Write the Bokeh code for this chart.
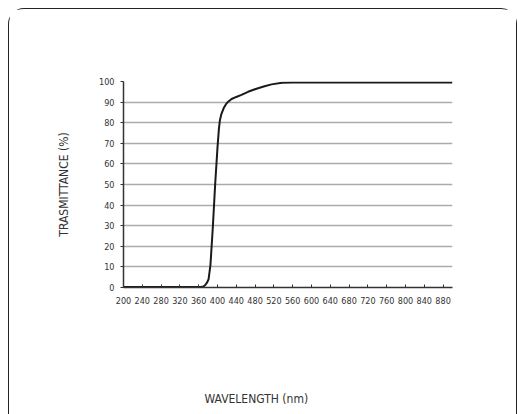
from bokeh.plotting import figure
from bokeh.models import FixedTicker, Title, Range1d
from bokeh.embed import file_html
from bokeh.resources import INLINE

# Data
wavelength = [200, 365, 370, 374, 378, 381, 385, 390, 395, 400, 403, 405, 408,
              413, 418, 422, 430, 440, 451, 465, 483, 500, 515, 537, 560, 900]
transmittance = [0.2, 0.2, 0.5, 1.2, 2.5, 4, 11, 29, 50, 68, 77, 81, 84,
                 87, 89, 90, 91.5, 92.5, 93.5, 95, 96.5, 97.7, 98.6, 99.4, 99.5, 99.5]
x_ticks = list(range(200, 881, 40))
y_ticks = list(range(0, 101, 10))

FONT = "DejaVu Sans Condensed"
TXT = "#333333"

p = figure(width=509, height=406, output_backend="svg", toolbar_location=None,
           x_range=Range1d(200, 900), y_range=Range1d(0, 100),
           min_border_left=114, min_border_right=66, min_border_top=72,
           min_border_bottom=128)
p.outline_line_color = None
p.styles = {"border": "1.5px solid #222222", "border-bottom": "none",
            "border-radius": "16px 16px 0 0", "box-sizing": "border-box",
            "margin-left": "8px", "margin-top": "8px"}

p.line(wavelength, transmittance, line_color="#1a1a1a", line_width=2)

p.xgrid.grid_line_color = None
p.ygrid.ticker = FixedTicker(ticks=y_ticks)
p.ygrid.grid_line_color = "#ababab"
p.ygrid.grid_line_width = 1.3

p.xaxis.ticker = FixedTicker(ticks=x_ticks)
p.yaxis.ticker = FixedTicker(ticks=y_ticks)
for ax in (p.xaxis, p.yaxis):
    ax.axis_line_color = "#333333"
    ax.axis_line_width = 1.5
    ax.major_tick_line_color = "#333333"
    ax.minor_tick_line_color = None
    ax.major_label_text_font = FONT
    ax.major_label_text_font_size = "9px"
    ax.major_label_text_color = TXT

p.xaxis.major_tick_in = 3
p.xaxis.major_tick_out = 0
p.xaxis.major_label_standoff = 9
p.yaxis.major_tick_in = 0
p.yaxis.major_tick_out = 3
p.yaxis.major_label_standoff = 6

p.yaxis.axis_label = "TRASMITTANCE (%)"
p.yaxis.axis_label_text_font = FONT
p.yaxis.axis_label_text_font_size = "12px"
p.yaxis.axis_label_text_font_style = "normal"
p.yaxis.axis_label_text_color = TXT
p.yaxis.axis_label_standoff = 25

p.add_layout(Title(text="WAVELENGTH (nm)", align="left", offset=81,
                   standoff=12, vertical_align="bottom",
                   padding=dict(top=77, right=0, bottom=0, left=0),
                   text_font=FONT, text_font_size="12px",
                   text_font_style="normal", text_color=TXT), "below")

open("out.html", "w").write(file_html(p, INLINE))
